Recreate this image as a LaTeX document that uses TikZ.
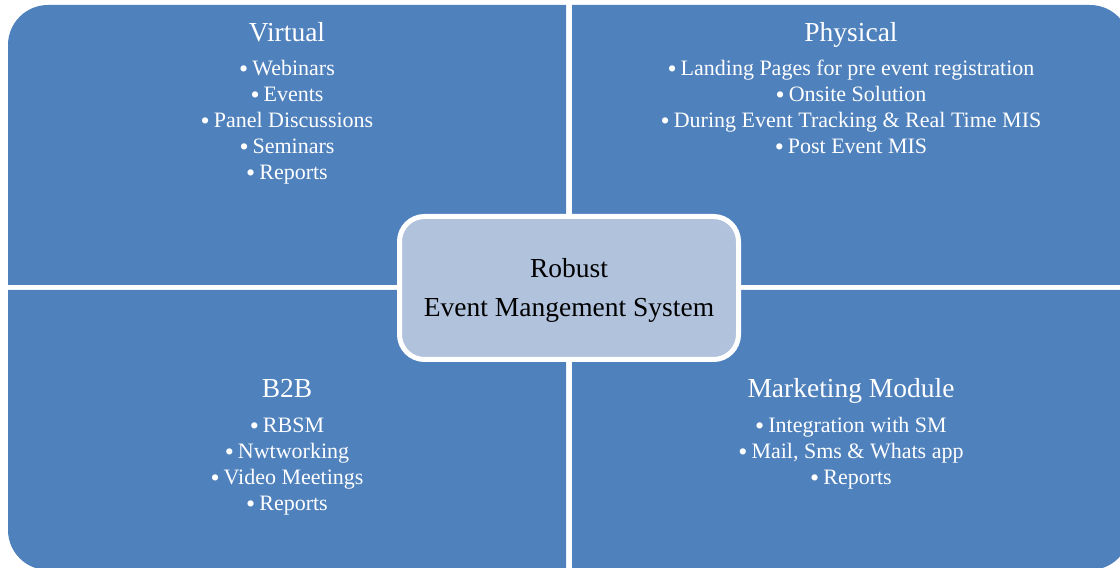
\documentclass[tikz,border=0pt]{standalone}
\usepackage{fontspec}
\setmainfont{Liberation Serif}
\definecolor{qblue}{RGB}{79,129,189}
\definecolor{cfill}{RGB}{177,194,221}
\tikzset{
  quad/.style={fill=qblue},
  ttl/.style={anchor=base, text=white, inner sep=0pt, font=\fontsize{27.5}{33}\selectfont},
  itm/.style={anchor=base, text=white, inner sep=0pt, font=\fontsize{22}{26}\selectfont},
  hub/.style={draw=white, line width=5pt, fill=cfill, rounded corners=25pt,
    minimum width=339pt, minimum height=143pt, inner sep=0pt},
  hubtxt/.style={anchor=base, text=black, inner sep=0pt, font=\fontsize{27.5}{33}\selectfont}
}
\newcommand{\bul}{\raisebox{-2pt}{\fontsize{26}{26}\selectfont\textbullet}\hspace{4pt}}
\begin{document}
\begin{tikzpicture}[x=1pt,y=1pt]
\useasboundingbox (0,0) rectangle (1120,568);
% quadrants
\fill[quad] (8,283) -- (8,523) arc[start angle=180,end angle=90,radius=40] -- (566,563) -- (566,283) -- cycle;
\fill[quad] (572,283) -- (572,563) -- (1090,563) arc[start angle=90,end angle=0,radius=40] -- (1130,283) -- cycle;
\fill[quad] (8,278) -- (566,278) -- (566,-2) -- (48,-2) arc[start angle=270,end angle=180,radius=40] -- cycle;
\fill[quad] (572,278) -- (1130,278) -- (1130,38) arc[start angle=0,end angle=-90,radius=40] -- (572,-2) -- cycle;
% Virtual
\node[ttl] (vT) at (287,526) {Virtual};
\node[itm] (v1) at (287,492) {\bul Webinars};
\node[itm] (v2) at (287,466) {\bul Events};
\node[itm] (v3) at (287,440) {\bul Panel Discussions};
\node[itm] (v4) at (287,414) {\bul Seminars};
\node[itm] (v5) at (287,388) {\bul Reports};
% Physical
\node[ttl] (pT) at (851,526) {Physical};
\node[itm] (p1) at (851,492) {\bul Landing Pages for pre event registration};
\node[itm] (p2) at (851,466) {\bul Onsite Solution};
\node[itm] (p3) at (851,440) {\bul During Event Tracking \& Real Time MIS};
\node[itm] (p4) at (851,414) {\bul Post Event MIS};
% B2B
\node[ttl] (bT) at (287,170) {B2B};
\node[itm] (b1) at (287,135) {\bul RBSM};
\node[itm] (b2) at (287,109) {\bul Nwtworking};
\node[itm] (b3) at (287,83) {\bul Video Meetings};
\node[itm] (b4) at (287,57) {\bul Reports};
% Marketing
\node[ttl] (mT) at (851,170) {Marketing Module};
\node[itm] (m1) at (851,135) {\bul Integration with SM};
\node[itm] (m2) at (851,109) {\bul Mail, Sms \& Whats app};
\node[itm] (m3) at (851,83) {\bul Reports};
% hub
\node[hub] (hub) at (569,280) {};
\node[hubtxt] (h1) at (569,290) {Robust};
\node[hubtxt] (h2) at (569,251) {Event Mangement System};
\end{tikzpicture}
\end{document}
